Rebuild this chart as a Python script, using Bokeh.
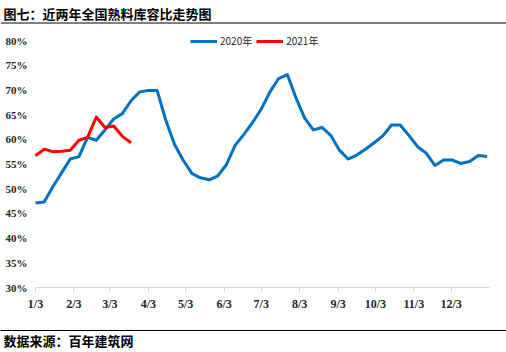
from bokeh.plotting import figure
from bokeh.models import (Range1d, FixedTicker, Legend, LegendItem, Label, Span,
                          Title, LinearAxis)
from bokeh.embed import file_html
from bokeh.resources import INLINE

# ---- data ----
title_text = "图七：近两年全国熟料库容比走势图"
source_text = "数据来源：百年建筑网"

# weekly observations, day offsets from 1/3
days_2020 = [7 * i for i in range(53)]
ratio_2020 = [47.1, 47.3, 50.4, 53.2, 56.0, 56.5, 60.4, 59.8, 61.9, 64.1,
              65.2, 67.8, 69.6, 69.9, 69.9, 63.9, 59.0, 55.8, 53.1, 52.2,
              51.8, 52.6, 54.9, 58.8, 61.0, 63.4, 66.1, 69.6, 72.3, 73.1,
              68.4, 64.3, 61.9, 62.4, 60.8, 57.8, 56.0, 56.8, 58.0, 59.3,
              60.7, 62.9, 62.9, 60.8, 58.5, 57.2, 54.7, 55.8, 55.8, 55.1,
              55.5, 56.7, 56.5]
days_2021 = [7 * i for i in range(12)]
ratio_2021 = [56.7, 58.0, 57.5, 57.6, 57.8, 59.8, 60.4, 64.5, 62.4, 62.7,
              60.6, 59.3]

x_tick_days = [0, 31, 60, 91, 121, 152, 182, 213, 244, 274, 305, 335]
x_tick_labels = ["1/3", "2/3", "3/3", "4/3", "5/3", "6/3", "7/3", "8/3",
                 "9/3", "10/3", "11/3", "12/3"]
y_ticks = [30, 35, 40, 45, 50, 55, 60, 65, 70, 75, 80]
y_tick_labels = ["30%", "35%", "40%", "45%", "50%", "55%", "60%", "65%",
                 "70%", "75%", "80%"]
series_names = ["2020年", "2021年"]
colors = ["#0070C0", "#FF0000"]

# ---- layout geometry (pixels) ----
W, H = 506, 352
plot_left, plot_right = 35, 489      # x-axis extent
plot_top, plot_bottom = 40, 287      # 80% .. 30%
x_end_day = 366
px_day = (plot_right - plot_left) / x_end_day
px_pct = (plot_bottom - plot_top) / (y_ticks[-1] - y_ticks[0])

x_range = Range1d(-plot_left / px_day, x_end_day + (W - plot_right) / px_day)
y_range = Range1d(y_ticks[0], y_ticks[-1] + plot_top / px_pct)

p = figure(width=W, height=H, output_backend="svg", toolbar_location=None,
           x_range=x_range, y_range=y_range,
           min_border_left=0, min_border_right=0, min_border_top=0,
           min_border_bottom=H - plot_bottom)
p.outline_line_color = None
p.xgrid.visible = False
p.ygrid.visible = False

r1 = p.line(days_2020, ratio_2020, line_color=colors[0], line_width=3,
            line_join="round")
r2 = p.line(days_2021, ratio_2021, line_color=colors[1], line_width=3,
            line_join="round")

# x axis
xa = p.xaxis[0]
xa.ticker = FixedTicker(ticks=x_tick_days)
xa.bounds = (0, x_end_day)
xa.major_label_overrides = {d: l for d, l in zip(x_tick_days, x_tick_labels)}
xa.axis_line_color = "#D9D9D9"
xa.major_tick_line_color = "#D9D9D9"
xa.major_tick_in = 0
xa.major_tick_out = 5
xa.minor_tick_line_color = None
xa.major_label_standoff = 4
xa.major_label_text_font = "Liberation Serif"
xa.major_label_text_font_style = "bold"
xa.major_label_text_font_size = "12px"
xa.major_label_text_color = "#262626"
xa.axis_label = " "
xa.axis_label_text_font_size = "10px"
xa.axis_label_standoff = 3

# y axis, labels drawn just left of the plot area
ya = p.yaxis[0]
ya.ticker = FixedTicker(ticks=y_ticks)
ya.major_label_overrides = {t: l for t, l in zip(y_ticks, y_tick_labels)}
ya.axis_line_color = None
ya.major_tick_line_color = None
ya.major_tick_out = 0
ya.major_tick_in = 0
ya.minor_tick_line_color = None
ya.major_label_standoff = -27
ya.major_label_text_font = "Liberation Serif"
ya.major_label_text_font_style = "bold"
ya.major_label_text_font_size = "11px"
ya.major_label_text_color = "#262626"

# separator line above the source note
sep = LinearAxis(ticker=FixedTicker(ticks=[]), axis_line_color="black",
                 axis_line_width=1, major_tick_line_color=None,
                 minor_tick_line_color=None, major_tick_in=0, major_tick_out=0,
                 major_label_standoff=0)
p.add_layout(sep, "below")

# source note
p.add_layout(Title(text=source_text, align="left", offset=3, standoff=-3,
                   text_font="Noto Sans CJK SC", text_font_style="bold",
                   text_font_size="13px", text_color="black"), "below")

# chart title and its underline
p.add_layout(Label(x=3, y=plot_bottom - 13, x_units="screen", y_units="screen",
                   text=title_text, text_font="Noto Sans CJK SC",
                   text_font_style="bold", text_font_size="13px",
                   text_baseline="middle", text_color="black"))
p.add_layout(Span(location=plot_bottom - 22.5, location_units="screen",
                  dimension="width", line_color="black", line_width=1))

legend = Legend(items=[LegendItem(label=series_names[0], renderers=[r1]),
                       LegendItem(label=series_names[1], renderers=[r2])],
                location=(190, plot_bottom - 48), orientation="horizontal",
                glyph_width=27, glyph_height=10, label_standoff=3, spacing=4,
                padding=0, margin=0, border_line_color=None,
                background_fill_alpha=0,
                label_text_font="Noto Sans CJK SC", label_text_font_size="10px",
                label_text_color="#262626", label_height=10)
p.add_layout(legend, "center")

open("out.html", "w").write(file_html(p, INLINE))
